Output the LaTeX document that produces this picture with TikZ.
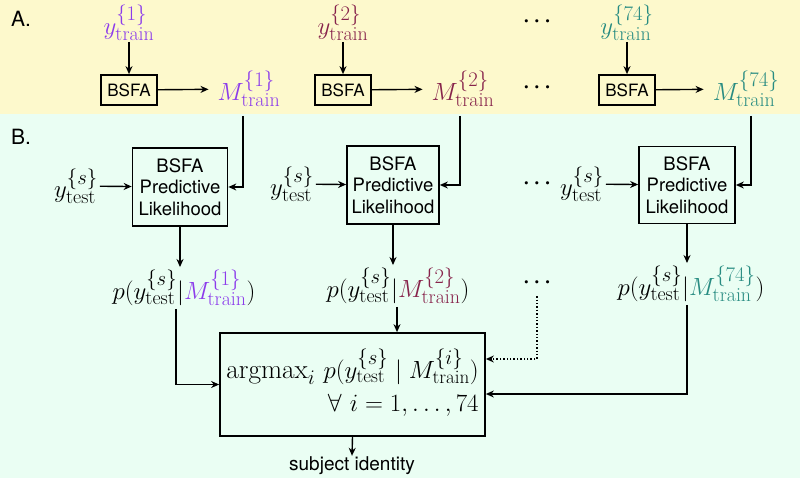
\documentclass[tikz,border=0pt]{standalone}
\usepackage{fontspec}
\setsansfont{TeX Gyre Heros}
\usetikzlibrary{arrows.meta}
\definecolor{bgA}{RGB}{253,249,204}
\definecolor{bgB}{RGB}{234,254,243}
\definecolor{cA}{RGB}{140,60,235}
\definecolor{cB}{RGB}{135,35,75}
\definecolor{cC}{RGB}{40,140,130}
\begin{document}
\begin{tikzpicture}[x=1pt,y=-1pt,
  sbox/.style={draw, line width=1.7pt, font=\sffamily\fontsize{17}{21.5}\selectfont, inner sep=0pt, align=center},
  plbox/.style={sbox, font=\sffamily\fontsize{18.5}{21.5}\selectfont},
  arr/.style={-{Stealth[length=8pt,width=7pt]}, line width=1.4pt},
  mth/.style={font=\fontsize{28.5}{32}\selectfont, inner sep=1pt},
  dts/.style={font=\fontsize{22}{26}\selectfont\boldmath, inner sep=1pt},
  lbl/.style={font=\sffamily\fontsize{21}{25}\selectfont, inner sep=0pt}]
\fill[bgA] (0,0) rectangle (800,114);
\fill[bgB] (0,114) rectangle (800,478);
\useasboundingbox (0,0) rectangle (800,478);
\node[lbl] (la) at (21,19) {A.};
\node[lbl] (lb) at (21,137) {B.};
% top row
\node[mth, text=cA] (y1) at (129,23) {$y^{\{1\}}_{\mathrm{train}}$};
\node[mth, text=cB] (y2) at (343,23) {$y^{\{2\}}_{\mathrm{train}}$};
\node[mth, text=cC] (y3) at (627,23) {$y^{\{74\}}_{\mathrm{train}}$};
\node[sbox, minimum width=56pt, minimum height=30pt] (b1) at (129,90) {BSFA};
\node[sbox, minimum width=56pt, minimum height=30pt] (b2) at (343,90) {BSFA};
\node[sbox, minimum width=56pt, minimum height=30pt] (b3) at (627,90) {BSFA};
\node[mth, text=cA, inner sep=9pt] (m1) at (249,89) {$M^{\{1\}}_{\mathrm{train}}$};
\node[mth, text=cB, inner sep=9pt] (m2) at (463,89) {$M^{\{2\}}_{\mathrm{train}}$};
\node[mth, text=cC, inner sep=9pt] (m3) at (746,89) {$M^{\{74\}}_{\mathrm{train}}$};
\node[dts] (d1) at (537,22) {$\cdots$};
\node[dts] (d2) at (537,88) {$\cdots$};
% middle
\node[plbox, minimum width=95pt, minimum height=78pt] (pl1) at (180,187) {BSFA\\Predictive\\Likelihood};
\node[plbox, minimum width=92pt, minimum height=78pt] (pl2) at (393,185) {BSFA\\Predictive\\Likelihood};
\node[plbox, minimum width=96pt, minimum height=77pt] (pl3) at (687,185) {BSFA\\Predictive\\Likelihood};
\node[mth, inner sep=2pt] (t1) at (76,186) {$y^{\{s\}}_{\mathrm{test}}$};
\node[mth, inner sep=2pt] (t2) at (292,184) {$y^{\{s\}}_{\mathrm{test}}$};
\node[mth, inner sep=2pt] (t3) at (582,184) {$y^{\{s\}}_{\mathrm{test}}$};
\node[dts] (d3) at (537,184) {$\cdots$};
\node[mth, inner sep=3pt] (p1) at (184,288) {$p(y^{\{s\}}_{\mathrm{test}}|{\color{cA}M^{\{1\}}_{\mathrm{train}}})$};
\node[mth, inner sep=3pt] (p2) at (398,286) {$p(y^{\{s\}}_{\mathrm{test}}|{\color{cB}M^{\{2\}}_{\mathrm{train}}})$};
\node[mth, inner sep=3pt] (p3) at (691,284) {$p(y^{\{s\}}_{\mathrm{test}}|{\color{cC}M^{\{74\}}_{\mathrm{train}}})$};
\node[dts, inner sep=8pt] (d4) at (537,283) {$\cdots$};
% bottom
\node[draw, line width=1.7pt, minimum width=265pt, minimum height=103pt, inner sep=0pt, font=\fontsize{27.3}{31}\selectfont] (big) at (352.5,384.5)
  {\raisebox{-6pt}{\begin{tabular}{@{}r@{}}$\mathrm{argmax}_i\ p(y^{\{s\}}_{\mathrm{test}}\mid M^{\{i\}}_{\mathrm{train}})$\\[2pt] $\forall\ i=1,\ldots,74$\end{tabular}}};
\node[font=\sffamily\fontsize{19}{22}\selectfont, inner sep=1pt] (subj) at (352,466) {subject identity};
% connectors
\draw[arr] (y1) -- (b1);
\draw[arr] (y2) -- (b2);
\draw[arr] (y3) -- (b3);
\draw[arr] (b1) -- (m1);
\draw[arr] (b2) -- (m2);
\draw[arr] (b3) -- (m3);
\draw[arr] ([xshift=-6pt]m1.south) |- (pl1.east);
\draw[arr] ([xshift=-3pt]m2.south) |- (pl2.east);
\draw[arr] ([xshift=5pt]m3.south) |- (pl3.east);
\draw[arr] (t1) -- (pl1);
\draw[arr] (t2) -- (pl2);
\draw[arr] (t3) -- (pl3);
\draw[arr] (pl1) -- (pl1 |- p1.north);
\draw[arr] (pl2) -- (pl2 |- p2.north);
\draw[arr] (pl3) -- (pl3 |- p3.north);
\draw[arr] ([xshift=-8pt]p1.south) |- (big.west);
\draw[arr] ([xshift=-1pt]p2.south) -- ([xshift=-1pt]p2.south |- big.north);
\draw[arr, dotted] (d4.south) |- ([yshift=25.5pt]big.east);
\draw[arr] ([xshift=-4pt]p3.south) |- ([yshift=-9.5pt]big.east);
\draw[arr] (big.south) -- (subj.north);
\end{tikzpicture}
\end{document}
